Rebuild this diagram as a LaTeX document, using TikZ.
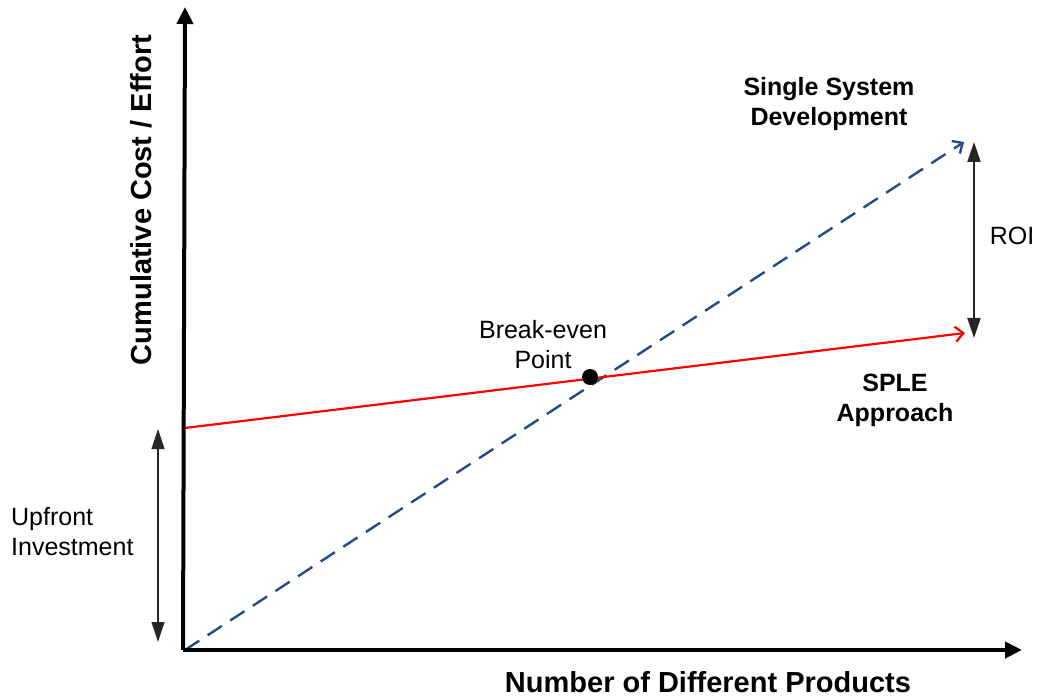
\documentclass[tikz,border=0pt]{standalone}
\usepackage{fontspec}
\setmainfont{Liberation Sans}
\usetikzlibrary{arrows.meta}
\definecolor{ssdblue}{rgb}{0.15,0.29,0.52}
\tikzset{
	axis/.style={line width=4pt,-{Triangle[length=17pt,width=16pt]}},
	ssdline/.style={ssdblue,line width=2.4pt,dash pattern=on 17pt off 10pt,-{Straight Barb[length=8pt,width=15pt,line width=2.4pt]}},
	spleline/.style={red,line width=2.2pt,-{Straight Barb[length=8pt,width=15pt,line width=2.2pt]}},
	span/.style={black!85,line width=#1,{Triangle[length=20pt,width=13pt]}-{Triangle[length=20pt,width=13pt]}},
	lbl/.style={align=center,inner sep=0pt,font=\fontsize{25}{30}\selectfont},
	blbl/.style={lbl,font=\fontsize{25}{30}\selectfont\bfseries},
	axlbl/.style={inner sep=0pt,font=\fontsize{29}{34}\selectfont\bfseries}
}
\begin{document}
\begin{tikzpicture}[x=1pt,y=-1pt]
	\useasboundingbox (0,0) rectangle (1041,700);
	\coordinate (O) at (185,650);
	\coordinate (ytip) at (185,7);
	\coordinate (xtip) at (1022,650);
	\coordinate (ssdend) at (964,142);
	\coordinate (splestart) at (185,428);
	\coordinate (spleend) at (965,333);
	\coordinate (roitop) at (974,142);
	\coordinate (roibot) at (974,338);
	\coordinate (uptop) at (158,429);
	\coordinate (upbot) at (158,642);

	\draw[ssdline] (O) -- (ssdend);
	\draw[spleline] (splestart) -- (spleend);
	\draw[axis] ([xshift=-2pt]O) -- (ytip);
	\draw[axis] ([xshift=-2pt]O) -- (xtip);
	\node[circle,fill,inner sep=0pt,minimum size=16pt] (be) at (590,377) {};

	\draw[span=2pt] (roitop) -- (roibot);
	\draw[span=1.2pt] (uptop) -- (upbot);

	\node[axlbl,rotate=90] (ylabel) at (141,200) {Cumulative Cost / Effort};
	\node[axlbl] (xlabel) at (708,682) {Number of Different Products};
	\node[blbl] (ssd) at (829,104) {Single System\\Development};
	\node[blbl] (sple) at (895,400) {SPLE\\Approach};
	\node[lbl] (roi) at (1012,236) {ROI};
	\node[lbl] (belbl) at (543,345) {Break-even\\Point};
	\node[lbl,align=left,anchor=west] (uplbl) at (11,532) {Upfront\\Investment};
\end{tikzpicture}
\end{document}
